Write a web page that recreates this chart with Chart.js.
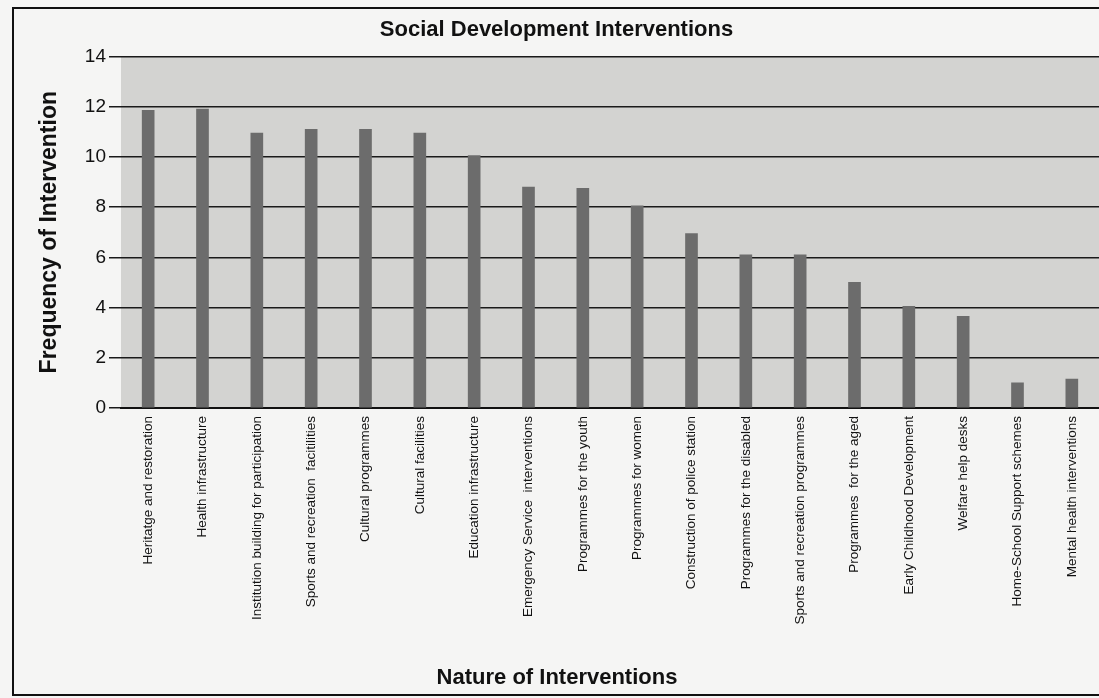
<!DOCTYPE html>
<html>
<head>
<meta charset="utf-8">
<script src="https://cdn.jsdelivr.net/npm/chart.js@4.4.0/dist/chart.umd.min.js"></script>
<style>
  html, body { margin: 0; padding: 0; background: #f5f5f4; }
  #wrap { width: 1099px; height: 698px; }
</style>
</head>
<body>
<div id="wrap"><canvas id="interventions" width="1099" height="698"></canvas></div>
<script>
const categories = [
  'Heritatge and restoration',
  'Health infrastructure',
  'Institution building for participation',
  'Sports and recreation  facitilities',
  'Cultural programmes',
  'Cultural facilities',
  'Education infrastructure',
  'Emergency Service  interventions',
  'Programmes for the youth',
  'Programmes for women',
  'Construction of police station',
  'Programmes for the disabled',
  'Sports and recreation programmes',
  'Programmes  for the aged',
  'Early Childhood Development',
  'Welfare help desks',
  'Home-School Support schemes',
  'Mental health interventions'
];
const frequency = [11.85, 11.9, 10.95, 11.1, 11.1, 10.95, 10.05, 8.8, 8.75, 8.05, 6.95, 6.1, 6.1, 5.0, 4.05, 3.65, 1.0, 1.15];
const yTicks = [0, 2, 4, 6, 8, 10, 12, 14];

const sans = "'Liberation Sans', Arial, sans-serif";

// paper frame, grey plot panel, and the x title (centred on the page, not the plot)
const frameAndPlotBg = {
  id: 'frameAndPlotBg',
  beforeDraw(chart) {
    const ctx = chart.ctx;
    const a = chart.chartArea;
    ctx.save();
    ctx.fillStyle = '#d3d3d1';
    ctx.fillRect(a.left, a.top, a.right - a.left, a.bottom - a.top);
    ctx.strokeStyle = '#111';
    ctx.lineWidth = 2;
    ctx.strokeRect(13, 8, 1100, 687);
    ctx.restore();
  },
  afterDraw(chart) {
    const ctx = chart.ctx;
    ctx.save();
    ctx.fillStyle = '#111';
    ctx.font = 'bold 22px ' + sans;
    ctx.textAlign = 'center';
    ctx.textBaseline = 'middle';
    ctx.fillText('Nature of Interventions', 557, 678);
    ctx.restore();
  }
};

new Chart(document.getElementById('interventions'), {
  type: 'bar',
  data: {
    labels: categories,
    datasets: [{
      label: 'Frequency of Intervention',
      data: frequency,
      backgroundColor: '#6c6c6c',
      barThickness: 12
    }]
  },
  options: {
    responsive: false,
    animation: false,
    layout: { padding: { left: 14, top: 8, right: 0, bottom: 4 } },
    plugins: {
      legend: { display: false },
      tooltip: { enabled: false },
      title: {
        display: true,
        text: 'Social Development Interventions',
        color: '#111',
        font: { family: sans, size: 22, weight: 'bold' },
        padding: { top: 9, bottom: 13 }
      }
    },
    scales: {
      x: {
        grid: { display: false },
        border: { display: true, color: '#111', width: 2 },
        ticks: {
          color: '#111',
          minRotation: 90,
          maxRotation: 90,
          autoSkip: false,
          padding: 0,
          font: { family: sans, size: 13.5 }
        },
        title: { display: false },
        afterFit(scale) { scale.height = 698 - 4 - 408; }
      },
      y: {
        min: 0,
        max: 14,
        afterBuildTicks(scale) { scale.ticks = yTicks.map(v => ({ value: v })); },
        grid: { color: '#1a1a1a', lineWidth: 1.5, drawTicks: true, tickLength: 12 },
        border: { display: false },
        ticks: {
          color: '#111',
          padding: 3,
          font: { family: sans, size: 19 }
        },
        title: {
          display: true,
          text: 'Frequency of Intervention',
          color: '#111',
          font: { family: sans, size: 23, weight: 'bold' },
          padding: { top: 22, bottom: 0 }
        },
        afterFit(scale) { scale.width = 121 - 14; }
      }
    }
  },
  plugins: [frameAndPlotBg]
});
</script>
</body>
</html>
